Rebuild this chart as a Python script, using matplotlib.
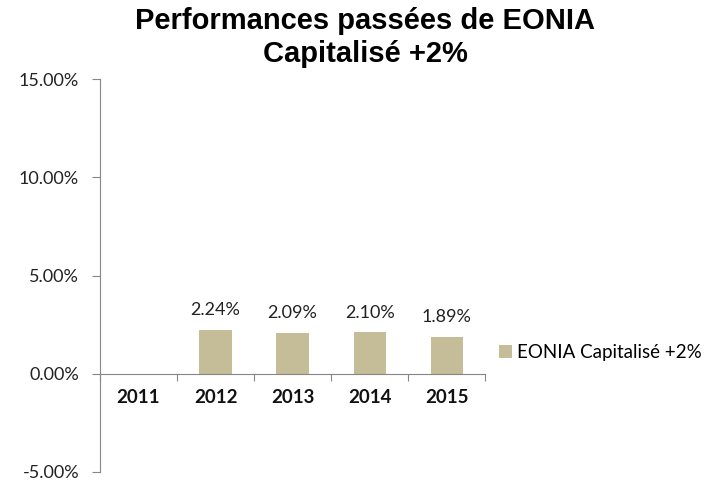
import matplotlib.pyplot as plt
import matplotlib.ticker as mticker
import numpy as np

years = ['2011', '2012', '2013', '2014', '2015']
values = [np.nan, 2.24, 2.09, 2.10, 1.89]
labels = ['', '2.24%', '2.09%', '2.10%', '1.89%']
series_name = 'EONIA Capitalisé +2%'

plt.rcParams['font.family'] = ['Lato', 'DejaVu Sans']

fig = plt.figure(figsize=(7.19, 4.83), dpi=100)
ax = fig.add_axes([0.139, 0.023, 0.536, 0.813])

x = np.arange(len(years))
bars = ax.bar(x, values, width=0.42, color='#C4BD97', label=series_name)

for xi, v, lab in zip(x, values, labels):
    if lab:
        ax.text(xi, v + 0.6, lab, ha='center', va='bottom', fontsize=13, color='#222222')

# year labels just under the zero line
for xi, yr in zip(x, years):
    ax.annotate(yr, (xi, 0), xytext=(0, -11), textcoords='offset points',
                ha='center', va='top', fontsize=13.5, fontweight='bold', color='#111111')

ax.set_ylim(-5, 15)
ax.set_xlim(-0.5, 4.5)
ax.yaxis.set_major_locator(mticker.MultipleLocator(5))
ax.yaxis.set_major_formatter(mticker.FuncFormatter(lambda v, p: '%.2f%%' % v))

# tick marks on the category boundaries
ax.set_xticks(np.arange(-0.5, 5, 1))
ax.set_xticklabels([])
ax.tick_params(axis='x', length=5, color='#868686', direction='out')
ax.tick_params(axis='y', length=6, pad=9, color='#868686', labelsize=13, labelcolor='#222222')

ax.spines['top'].set_visible(False)
ax.spines['right'].set_visible(False)
ax.spines['bottom'].set_position(('data', 0))
ax.spines['bottom'].set_color('#868686')
ax.spines['left'].set_color('#868686')

fig.suptitle('Performances passées de EONIA\nCapitalisé +2%', x=0.508, y=0.985,
             fontsize=21, fontweight='bold', family=['Liberation Sans', 'DejaVu Sans'],
             linespacing=1.2)

fig.legend(handles=[bars], loc='center left', bbox_to_anchor=(0.67, 0.27),
           frameon=False, fontsize=13.5, handlelength=0.7, handleheight=0.7,
           handletextpad=0.3)

plt.savefig('out.png', dpi=100)
